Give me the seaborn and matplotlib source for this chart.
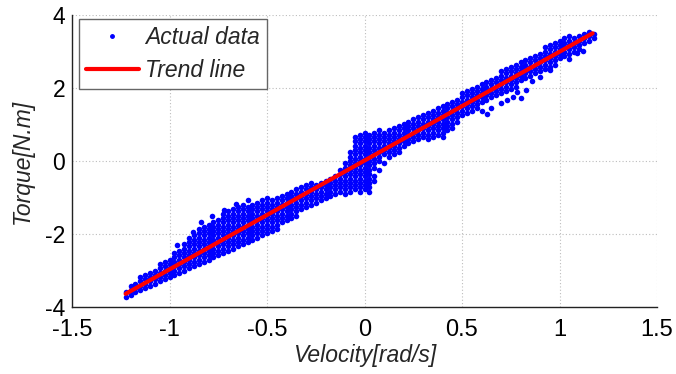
import matplotlib
matplotlib.use("Agg")
import matplotlib.pyplot as plt
from matplotlib.lines import Line2D
import numpy as np
import pandas as pd
import seaborn as sns

# ---------------- data ----------------
velocity_cols = [
    -1.225, -1.200, -1.175, -1.150, -1.125, -1.100, -1.075, -1.050, -1.025, -1.000,
    -0.975, -0.950, -0.925, -0.900, -0.875, -0.850, -0.825, -0.800, -0.775, -0.750,
    -0.725, -0.700, -0.675, -0.650, -0.625, -0.600, -0.575, -0.550, -0.525, -0.500,
    -0.475, -0.450, -0.425, -0.400, -0.375, -0.350, -0.325, -0.300, -0.275, -0.250,
    -0.225, -0.200, -0.175, -0.150, -0.125, -0.100, -0.075, -0.050, -0.025, 0.000,
    0.025, 0.050, 0.075, 0.100, 0.125, 0.150, 0.175, 0.200, 0.225, 0.250,
    0.275, 0.300, 0.325, 0.350, 0.375, 0.400, 0.425, 0.450, 0.475, 0.500,
    0.525, 0.550, 0.575, 0.600, 0.625, 0.650, 0.675, 0.700, 0.725, 0.750,
    0.775, 0.800, 0.825, 0.850, 0.875, 0.900, 0.925, 0.950, 0.975, 1.000,
    1.025, 1.050, 1.075, 1.100, 1.125, 1.150, 1.175,
]

torque_cols = [
    [-3.72, -3.60],
    [-3.66, -3.54, -3.42],
    [-3.60, -3.48, -3.36],
    [-3.54, -3.42, -3.30, -3.18],
    [-3.48, -3.36, -3.24, -3.12],
    [-3.42, -3.30, -3.18, -3.06],
    [-3.36, -3.24, -3.12, -3.00],
    [-3.30, -3.18, -3.06, -2.94, -2.82],
    [-3.24, -3.12, -3.00, -2.88, -2.76],
    [-3.18, -3.06, -2.94, -2.82, -2.70],
    [-3.12, -3.00, -2.88, -2.76, -2.64, -2.52],
    [-3.06, -2.94, -2.82, -2.70, -2.58, -2.46],
    [-3.00, -2.88, -2.76, -2.64, -2.52, -2.40, -2.28],
    [-2.94, -2.82, -2.70, -2.58, -2.46, -2.34, -2.22, -2.10],
    [-2.88, -2.76, -2.64, -2.52, -2.40, -2.28, -2.16, -2.04],
    [-2.82, -2.70, -2.58, -2.46, -2.34, -2.22, -2.10, -1.98, -1.86],
    [-2.76, -2.64, -2.52, -2.40, -2.28, -2.16, -2.04, -1.92, -1.80],
    [-2.70, -2.58, -2.46, -2.34, -2.22, -2.10, -1.98, -1.86, -1.74],
    [-2.64, -2.52, -2.40, -2.28, -2.16, -2.04, -1.92, -1.80, -1.68],
    [-2.58, -2.46, -2.34, -2.22, -2.10, -1.98, -1.86, -1.74, -1.62],
    [-2.52, -2.40, -2.28, -2.16, -2.04, -1.92, -1.80, -1.68, -1.56, -1.44],
    [-2.46, -2.34, -2.22, -2.10, -1.98, -1.86, -1.74, -1.62, -1.50, -1.38],
    [-2.40, -2.28, -2.16, -2.04, -1.92, -1.80, -1.68, -1.56, -1.44, -1.32],
    [-2.34, -2.22, -2.10, -1.98, -1.86, -1.74, -1.62, -1.50, -1.38, -1.26],
    [-2.28, -2.16, -2.04, -1.92, -1.80, -1.68, -1.56, -1.44, -1.32, -1.20],
    [-2.22, -2.10, -1.98, -1.86, -1.74, -1.62, -1.50, -1.38, -1.26],
    [-2.16, -2.04, -1.92, -1.80, -1.68, -1.56, -1.44, -1.32, -1.20],
    [-2.10, -1.98, -1.86, -1.74, -1.62, -1.50, -1.38, -1.26, -1.14],
    [-2.04, -1.92, -1.80, -1.68, -1.56, -1.44, -1.32, -1.20, -1.08],
    [-1.98, -1.86, -1.74, -1.62, -1.50, -1.38, -1.26, -1.14, -1.02],
    [-1.92, -1.80, -1.68, -1.56, -1.44, -1.32, -1.20, -1.08],
    [-1.86, -1.74, -1.62, -1.50, -1.38, -1.26, -1.14, -1.02],
    [-1.68, -1.56, -1.44, -1.32, -1.20, -1.08, -0.96],
    [-1.62, -1.50, -1.38, -1.26, -1.14, -1.02, -0.90],
    [-1.56, -1.44, -1.32, -1.20, -1.08, -0.96, -0.84],
    [-1.50, -1.38, -1.26, -1.14, -1.02, -0.90, -0.78],
    [-1.32, -1.20, -1.08, -0.96, -0.84, -0.72],
    [-1.26, -1.14, -1.02, -0.90, -0.78, -0.66],
    [-1.20, -1.08, -0.96, -0.84, -0.72, -0.60],
    [-1.14, -1.02, -0.90, -0.78, -0.66],
    [-1.08, -0.96, -0.84, -0.72, -0.60],
    [-1.02, -0.90, -0.78, -0.66, -0.54],
    [-0.96, -0.84, -0.72, -0.60, -0.48],
    [-0.90, -0.78, -0.66, -0.54, -0.42],
    [-0.84, -0.72, -0.60, -0.48, -0.36, -0.24],
    [-0.90, -0.78, -0.66, -0.54, -0.42, -0.30, -0.18, -0.06],
    [-0.84, -0.72, -0.60, -0.48, -0.36, -0.24, -0.12, 0.00, 0.12, 0.24],
    [-0.78, -0.66, -0.54, -0.42, -0.30, -0.18, -0.06, 0.06, 0.18, 0.30, 0.42, 0.54, 0.66],
    [-0.84, -0.72, -0.60, -0.48, -0.36, -0.24, -0.12, 0.00, 0.12, 0.24, 0.36, 0.48, 0.60, 0.72],
    [-0.78, -0.66, -0.54, -0.42, -0.30, -0.18, -0.06, 0.06, 0.18, 0.30, 0.42, 0.54, 0.66, 0.78],
    [-0.84, -0.72, -0.60, -0.48, -0.36, -0.24, -0.12, 0.00, 0.12, 0.24, 0.36, 0.48, 0.60, 0.72],
    [-0.54, -0.42, -0.18, -0.06, 0.06, 0.18, 0.30, 0.42, 0.54, 0.66, 0.78],
    [-0.24, 0.00, 0.12, 0.24, 0.36, 0.48, 0.60, 0.72, 0.84],
    [-0.06, 0.18, 0.30, 0.42, 0.54, 0.66, 0.78],
    [0.12, 0.24, 0.36, 0.48, 0.60, 0.72, 0.84],
    [0.18, 0.30, 0.42, 0.54, 0.66, 0.78, 0.90],
    [0.24, 0.36, 0.48, 0.60, 0.72, 0.84, 0.96],
    [0.42, 0.54, 0.66, 0.78, 0.90, 1.02],
    [0.48, 0.60, 0.72, 0.84, 0.96, 1.08],
    [0.54, 0.66, 0.78, 0.90, 1.02, 1.14],
    [0.60, 0.72, 0.84, 0.96, 1.08, 1.20],
    [0.66, 0.78, 0.90, 1.02, 1.14, 1.26],
    [0.60, 0.72, 0.84, 0.96, 1.08, 1.20, 1.32],
    [0.66, 0.78, 0.90, 1.02, 1.14, 1.26, 1.38],
    [0.72, 0.84, 0.96, 1.08, 1.20, 1.32, 1.44],
    [0.66, 0.78, 0.90, 1.02, 1.14, 1.26, 1.38, 1.50],
    [0.84, 0.96, 1.08, 1.20, 1.32, 1.44, 1.56],
    [0.90, 1.02, 1.14, 1.26, 1.38, 1.50, 1.62],
    [1.08, 1.20, 1.32, 1.44, 1.56, 1.68],
    [1.26, 1.38, 1.50, 1.62, 1.74, 1.86],
    [1.32, 1.44, 1.56, 1.68, 1.80, 1.92],
    [1.38, 1.50, 1.62, 1.74, 1.86, 1.98],
    [1.44, 1.56, 1.68, 1.80, 1.92, 2.04],
    [1.62, 1.74, 1.86, 1.98, 2.10],
    [1.68, 1.80, 1.92, 2.04, 2.16],
    [1.74, 1.86, 1.98, 2.10, 2.22],
    [1.80, 1.92, 2.04, 2.16, 2.28],
    [1.86, 1.98, 2.10, 2.22, 2.34, 2.46],
    [1.92, 2.04, 2.16, 2.28, 2.40, 2.52],
    [1.98, 2.10, 2.22, 2.34, 2.46, 2.58],
    [2.04, 2.16, 2.28, 2.40, 2.52, 2.64],
    [2.22, 2.34, 2.46, 2.58, 2.70],
    [2.28, 2.40, 2.52, 2.64, 2.76],
    [2.34, 2.46, 2.58, 2.70, 2.82],
    [2.40, 2.52, 2.64, 2.76, 2.88],
    [2.46, 2.58, 2.70, 2.82, 2.94],
    [2.52, 2.64, 2.76, 2.88, 3.00, 3.12],
    [2.58, 2.70, 2.82, 2.94, 3.06, 3.18],
    [2.64, 2.76, 2.88, 3.00, 3.12, 3.24],
    [2.82, 2.94, 3.06, 3.18, 3.30],
    [2.88, 3.00, 3.12, 3.24, 3.36],
    [2.94, 3.06, 3.18, 3.30, 3.42],
    [3.00, 3.12, 3.24, 3.36],
    [3.06, 3.18, 3.30, 3.42],
    [3.24, 3.36, 3.48],
    [3.30, 3.42, 3.54],
    [3.36, 3.48],
]

# scattered stray samples outside the dense band
outlier_velocity = [0.60, 0.63, 0.65, 0.70, 0.73, 0.76, 0.78, 0.80, 0.83, 0.86, 0.90,
                    0.95, 1.05, 1.09, 1.12, -0.96, -0.88, -0.84, -0.78, -0.72, -0.66, -0.60]
outlier_torque = [1.38, 1.30, 1.45, 1.60, 1.68, 1.75, 1.88, 1.72, 1.95, 2.20, 2.30,
                  2.48, 2.80, 2.95, 3.02, -2.30, -1.95, -1.68, -1.50, -1.35, -1.18, -1.08]

# trend line (linear fit) end points
trend_velocity = [-1.225, 1.17]
trend_torque = [-3.64, 3.50]

x_ticks = [-1.5, -1, -0.5, 0, 0.5, 1, 1.5]
x_tick_labels = ["-1.5", "-1", "-0.5", "0", "0.5", "1", "1.5"]
y_ticks = [-4, -2, 0, 2, 4]
y_tick_labels = ["-4", "-2", "0", "2", "4"]

# ---------------- build table ----------------
rows = []
for v, ts in zip(velocity_cols, torque_cols):
    for t in ts:
        rows.append((v, t))
for v, t in zip(outlier_velocity, outlier_torque):
    rows.append((v, t))
df = pd.DataFrame(rows, columns=["Velocity", "Torque"])
trend_df = pd.DataFrame({"Velocity": trend_velocity, "Torque": trend_torque})

# ---------------- style ----------------
sns.set_style("white")
plt.rcParams["font.family"] = ["Liberation Sans", "DejaVu Sans"]
plt.rcParams["font.size"] = 17

fig, ax = plt.subplots(figsize=(6.76, 3.74), dpi=100)
fig.subplots_adjust(left=72 / 676, right=657 / 676, bottom=(374 - 307) / 374, top=(374 - 15) / 374)

ax.set_axisbelow(True)
ax.grid(True, linestyle=(0, (1, 2)), color="#bdbdbd", linewidth=0.8)

sns.scatterplot(data=df, x="Velocity", y="Torque", color="#0000ff", s=16,
                linewidth=0, marker="o", ax=ax, legend=False, zorder=2)
sns.lineplot(data=trend_df, x="Velocity", y="Torque", color="#ff0000",
             linewidth=3, ax=ax, legend=False, zorder=3)

ax.set_xlim(-1.5, 1.5)
ax.set_ylim(-4, 4)
ax.set_xticks(x_ticks)
ax.set_xticklabels(x_tick_labels)
ax.set_yticks(y_ticks)
ax.set_yticklabels(y_tick_labels)

for side in ["top", "right"]:
    ax.spines[side].set_visible(False)
for side in ["left", "bottom"]:
    ax.spines[side].set_color("#222222")
    ax.spines[side].set_linewidth(1.0)

ax.tick_params(axis="both", direction="in", length=5, width=1, color="#222222",
               labelcolor="black", top=False, right=False)
ax.tick_params(axis="x", pad=8.5, labelsize=17)
ax.tick_params(axis="y", pad=5, labelsize=16.5)

ax.set_xlabel("Velocity[rad/s]", fontsize=16.5, fontstyle="italic", labelpad=2)
ax.set_ylabel("Torque[N.m]", fontsize=16.5, fontstyle="italic", labelpad=8)

handles = [
    Line2D([], [], marker="o", color="#0000ff", linestyle="none", markersize=2.5),
    Line2D([], [], color="#ff0000", linewidth=3),
]
leg = ax.legend(handles, ["Actual data", "Trend line"], loc="upper left",
                bbox_to_anchor=(7 / 585, 1 - 4 / 292), borderaxespad=0,
                frameon=True, fancybox=False, framealpha=1, edgecolor="#666666",
                prop={"style": "italic", "size": 16.5}, handlelength=2.3,
                handletextpad=0.3, labelspacing=0.45, borderpad=0.3)
leg.get_frame().set_linewidth(1.0)

fig.savefig("out.png", dpi=100)
